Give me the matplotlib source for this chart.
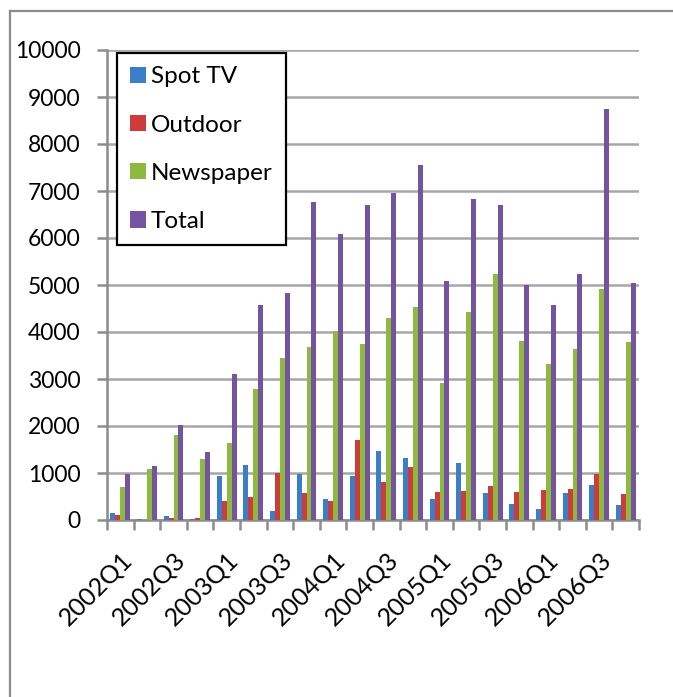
import numpy as np
import matplotlib
matplotlib.use("Agg")
import matplotlib.pyplot as plt
from matplotlib.lines import Line2D

plt.rcParams['font.family'] = ['Lato', 'DejaVu Sans']

quarters = [f"{y}Q{q}" for y in range(2002, 2007) for q in range(1, 5)]
tick_labels = quarters[::2]

spot_tv = [156, 20, 85, 20, 936, 1170, 191, 979, 447, 936,
           1468, 1319, 447, 1213, 574, 340, 234, 574, 745, 319]
outdoor = [106, 8, 43, 43, 404, 489, 1000, 574, 404, 1702,
           809, 1128, 596, 617, 723, 596, 638, 660, 979, 553]
newspaper = [702, 1085, 1809, 1298, 1638, 2787, 3447, 3681, 4030, 3745,
             4290, 4527, 2915, 4420, 5226, 3809, 3319, 3638, 4908, 3787]
total = [985, 1149, 2021, 1447, 3106, 4569, 4823, 6767, 6092, 6703,
         6958, 7552, 5078, 6830, 6703, 5000, 4569, 5226, 8739, 5035]

series = [("Spot TV", spot_tv, "#3A7DC9"),
          ("Outdoor", outdoor, "#CF3B38"),
          ("Newspaper", newspaper, "#8DB93F"),
          ("Total", total, "#7454A0")]

W, H = 673, 697
fig = plt.figure(figsize=(W / 100, H / 100), dpi=100)
ax = fig.add_axes([107 / W, 1 - 520 / H, (639 - 107) / W, (520 - 50) / H])

# outer chart frame (top and left edges only visible)
fig.add_artist(Line2D([10 / W, 1], [1 - 11 / H, 1 - 11 / H], color="#8C8C8C", lw=1.6))
fig.add_artist(Line2D([10 / W, 10 / W], [0, 1 - 11 / H], color="#8C8C8C", lw=1.6))

x = np.arange(len(quarters))
bw = 0.75 / 4
for i, (name, vals, col) in enumerate(series):
    ax.bar(x + (i - 1.5) * bw, vals, width=bw, color=col, label=name, zorder=3)

ax.set_xlim(-0.5, len(quarters) - 0.5)
ax.set_ylim(0, 10000)
ax.set_yticks(np.arange(0, 10001, 1000))
ax.yaxis.grid(True, color="#A6A6A6", lw=1.8)
ax.set_axisbelow(True)

ax.set_xticks(x[::2])
ax.set_xticklabels(tick_labels, rotation=45, ha="right", va="top",
                   rotation_mode="anchor")
ax.set_xticks(np.arange(-0.5, len(quarters)), minor=True)
ax.tick_params(axis="x", which="major", length=0, pad=20, labelsize=18)
ax.tick_params(axis="x", which="minor", length=7, width=1.8, color="#8C8C8C")
ax.tick_params(axis="y", length=7, width=1.8, color="#8C8C8C", pad=12, labelsize=16.5)

for s in ["top", "right"]:
    ax.spines[s].set_visible(False)
for s in ["left", "bottom"]:
    ax.spines[s].set_color("#8C8C8C")
    ax.spines[s].set_linewidth(1.8)

leg = ax.legend(loc="upper left", bbox_to_anchor=(117 / W, 1 - 53 / H),
                bbox_transform=fig.transFigure, borderaxespad=0,
                fontsize=17.5, handlelength=0.65, handleheight=0.65,
                handletextpad=0.2, labelspacing=1.12, borderpad=0.55,
                fancybox=False, framealpha=1, edgecolor="black")
leg.get_frame().set_linewidth(1.6)

fig.savefig("out.png", dpi=100)
